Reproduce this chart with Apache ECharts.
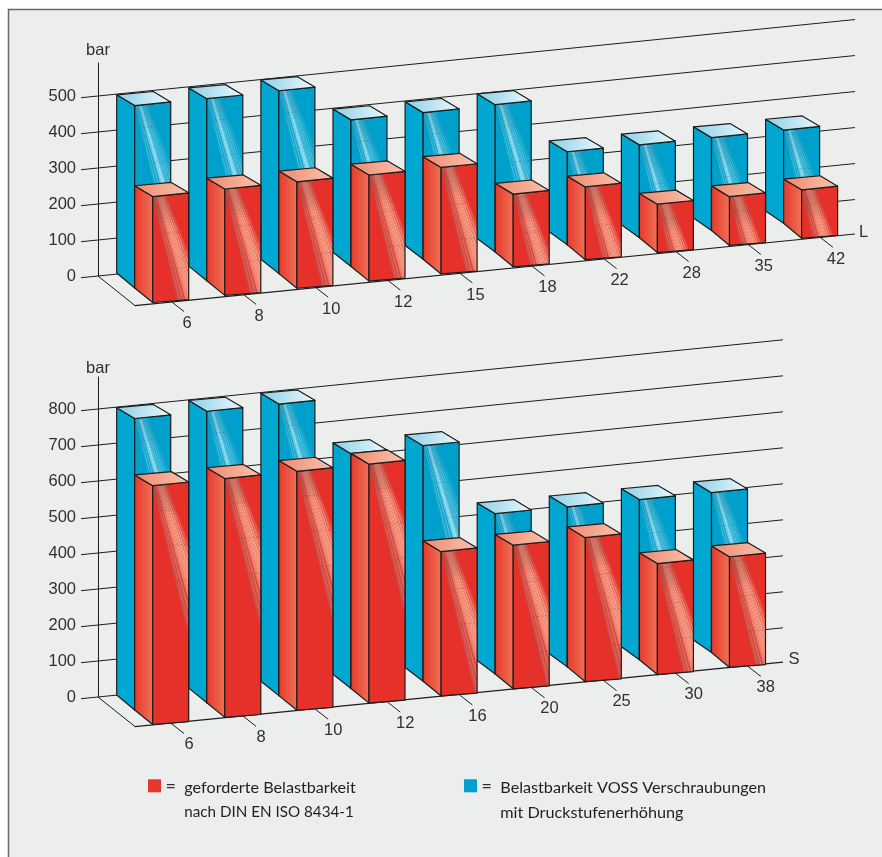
<!DOCTYPE html>
<html>
<head>
<meta charset="utf-8">
<style>html,body{margin:0;padding:0;background:#fff}#chart{width:882px;height:857px}</style>
<script src="https://cdn.jsdelivr.net/npm/echarts@6/dist/echarts.min.js"></script>
</head>
<body>
<div id="chart"></div>
<script>
// Pressure ratings per tube size, heavy (S) and light (L) series, in bar
const lSizes = ['6', '8', '10', '12', '15', '18', '22', '28', '35', '42'];
const lRequired = [284, 285, 285, 284, 285, 191, 191, 123, 124, 123];
const lVoss = [495, 495, 498, 398, 399, 402, 252, 252, 253, 255];
const lTicks = [0, 100, 200, 300, 400, 500];

const sSizes = ['6', '8', '10', '12', '16', '20', '25', '30', '38'];
const sRequired = [653, 653, 653, 653, 390, 388, 389, 297, 296];
const sVoss = [798, 799, 800, 643, 646, 438, 438, 439, 439];
const sTicks = [0, 100, 200, 300, 400, 500, 600, 700, 800];

const requiredLegend = ['geforderte Belastbarkeit', 'nach DIN EN ISO 8434-1'];
const vossLegend = ['Belastbarkeit VOSS Verschraubungen', 'mit Druckstufenerhöhung'];

// Oblique projection used to fake the 3D look of the bars
const PX_PER_BAR = 0.36;
const BAND = 72.1;
const DEPTH_X = 18;
const FACE_W = 36;
const TOP_DY = 10.8;
const TOP_SLOPE = 0.103;
const BOTTOM_SLOPE = 0.08;
const BAR_SHEAR = 0.0955;
const WALL_SHEAR = 0.101;
const FLOOR_SHEAR = 0.0995;
const AXIS_X = 98;
const LINE = '#1c1c1c';
const TEXT = '#303030';
const AXIS_FONT = '"Liberation Sans", Arial, sans-serif';
const LEGEND_FONT = '16.2px "Lato", sans-serif';
const LEGEND_FONT_DIGITS = '15.2px "Lato", sans-serif';

const panels = [
  { name: 'L', sizes: lSizes, required: lRequired, voss: lVoss, ticks: lTicks, zeroY: 276, topY: 63, lift: 3, endX: 855,
    labelOffset: [3, 12], nameGap: 4 },
  { name: 'S', sizes: sSizes, required: sRequired, voss: sVoss, ticks: sTicks, zeroY: 697, topY: 377, lift: 2, endX: 783,
    labelOffset: [5, 11], nameGap: 0 }
];

function hGradient(x1, x2, from, to) {
  return { type: 'linear', global: true, x: x1, y: 0, x2: x2, y2: 0,
    colorStops: [{ offset: 0, color: from }, { offset: 1, color: to }] };
}

// Strip colours of the fan-shaped sheen on the front faces, left to right
const BLUE_SHEEN = ['rgba(60,170,205,.4)', 'rgba(130,215,235,.5)', 'rgba(50,165,200,.35)', 'rgba(150,222,238,.55)', 'rgba(60,170,205,.35)',
  'rgba(165,226,240,.65)', 'rgba(190,235,245,.8)', 'rgba(195,236,245,.85)', 'rgba(175,228,240,.7)', 'rgba(130,212,232,.55)',
  'rgba(110,205,228,.5)', 'rgba(145,218,236,.6)', 'rgba(80,190,220,.45)', 'rgba(145,218,236,.55)', 'rgba(70,185,216,.35)',
  'rgba(130,212,232,.42)', 'rgba(50,175,210,.2)', 'rgba(110,205,228,.25)'];
const RED_SHEEN = ['rgba(130,140,150,.4)', 'rgba(232,125,105,.55)', 'rgba(135,140,145,.35)', 'rgba(238,140,118,.65)', 'rgba(150,140,140,.3)',
  'rgba(242,152,128,.75)', 'rgba(244,160,136,.85)', 'rgba(245,165,140,.9)', 'rgba(245,168,144,.95)', 'rgba(245,168,144,.95)',
  'rgba(245,165,140,.9)', 'rgba(248,188,168,.9)', 'rgba(240,145,120,.8)', 'rgba(248,188,168,.85)', 'rgba(238,125,100,.65)',
  'rgba(247,180,160,.7)', 'rgba(235,105,85,.45)', 'rgba(243,150,130,.45)'];

function sheenEdge(k, count, y, fTop) {
  const t = k / count;
  return (14 * t) + (0.24 + 0.14 * t) * (y - fTop);
}

function drawSheen(fx, fTop, fBottom, frontFace, style, wallY) {
  const n = style.sheen.length;
  const yA = fTop - 4;
  const yB = fTop + 230;
  const clip = { type: 'polygon', shape: { points: frontFace } };
  const out = style.sheen.map(function (color, k) {
    return {
      type: 'polygon',
      shape: { points: [
        [fx + sheenEdge(k, n, yA, fTop), yA], [fx + sheenEdge(k + 1, n, yA, fTop), yA],
        [fx + sheenEdge(k + 1, n, yB, fTop), yB], [fx + sheenEdge(k, n, yB, fTop), yB]] },
      style: { fill: color, stroke: 'none' },
      clipPath: clip, silent: true
    };
  });
  const envelope = [[fx + sheenEdge(0, n, yA, fTop), yA], [fx + sheenEdge(n, n, yA, fTop), yA],
    [fx + sheenEdge(n, n, yB, fTop), yB], [fx + sheenEdge(0, n, yB, fTop), yB]];
  // Darker start of the fan just below the top edge
  out.push({
    type: 'polygon', shape: { points: envelope }, silent: true,
    style: { stroke: 'none', fill: { type: 'linear', global: true, x: 0, y: fTop, x2: 0, y2: fTop + 30,
      colorStops: [{ offset: 0, color: style.shade }, { offset: 1, color: 'rgba(0,0,0,0)' }] } },
    clipPath: clip
  });
  // Back-wall lines showing faintly through the sheen
  wallY.forEach(function (wy) {
    const y1 = wy(fx);
    const y2 = wy(fx + FACE_W);
    if (y1 < fBottom - 2 && y2 > fTop) {
      out.push({ type: 'line', shape: { x1: fx, y1: y1, x2: fx + FACE_W, y2: y2 }, silent: true,
        style: { stroke: style.ghost, lineWidth: 0.8, lineDash: [2, 2], fill: 'none' },
        clipPath: { type: 'polygon', shape: { points: envelope } } });
    }
  });
  return out;
}

function drawBar(x, base, bottomDy, height, style, wallY) {
  const top = base - height;
  const fx = x + DEPTH_X;
  const fTop = top + TOP_DY;
  const fBottom = base + bottomDy;
  const edge = { stroke: LINE, lineWidth: 1.2, lineJoin: 'round' };
  const frontFace = [[fx, fTop], [fx + FACE_W, fTop - FACE_W * TOP_SLOPE],
    [fx + FACE_W, fBottom - FACE_W * BOTTOM_SLOPE], [fx, fBottom]];
  return [
    { type: 'polygon', shape: { points: [[x, base], [x, top], [fx, fTop], [fx, fBottom]] },
      style: Object.assign({ fill: style.left(x, fx) }, edge) },
    { type: 'polygon', shape: { points: frontFace }, style: { fill: style.front, stroke: 'none' } }
  ].concat(drawSheen(fx, fTop, fBottom, frontFace, style, wallY), [
    { type: 'polygon', shape: { points: frontFace }, style: Object.assign({ fill: 'none' }, edge) },
    { type: 'polygon', shape: { points: [[x, top], [fx, fTop], [fx + FACE_W, fTop - FACE_W * TOP_SLOPE], [x + FACE_W + 0.6, top - 3.3]] },
      style: Object.assign({ fill: hGradient(x, fx + FACE_W, style.topFrom, style.topTo) }, edge) }
  ]);
}

const vossStyle = {
  front: '#00a0cc', sheen: BLUE_SHEEN, topFrom: '#8ad0e8', topTo: '#ecf8fc',
  shade: 'rgba(0,90,140,.12)', ghost: 'rgba(0,70,100,.3)',
  left: function () { return '#00a8d1'; }
};
const requiredStyle = {
  front: '#e5312a', sheen: RED_SHEEN, topFrom: '#ee8a70', topTo: '#fac3ae',
  shade: 'rgba(130,60,55,.3)', ghost: 'rgba(80,40,40,.35)',
  left: function (a, b) { return hGradient(a, b, '#e63a2c', '#ef7056'); }
};

// Back corner of the blue bar at category i on the sheared floor
function blueCorner(api, panel, i, value) {
  const p = api.coord([i, value]);
  const zero = api.coord([i, 0]);
  const x = p[0] + 0.65 - DEPTH_X;
  const base = zero[1] - panel.lift - BAR_SHEAR * (x - (AXIS_X + 18.7));
  return { x: x, base: base, height: zero[1] - p[1], fx: x + DEPTH_X };
}

function wallLines(api, panel) {
  return panel.ticks.map(function (t) {
    const y = api.coord([0, t])[1];
    return function (x) { return y - WALL_SHEAR * (x - AXIS_X); };
  });
}

function buildPanel(panel, gridIndex) {
  const axisRefs = { xAxisIndex: gridIndex, yAxisIndex: gridIndex, silent: true, animation: false, type: 'custom', encode: { x: 0, y: 1 } };
  const blueDy = function (i) { return 15 - 0.3 * i; };

  const wall = Object.assign({}, axisRefs, {
    name: panel.name + ' wall',
    data: panel.ticks.map(function (t) { return [0, t]; }),
    renderItem: function (params, api) {
      const y = api.coord([0, api.value(1)])[1];
      const x1 = AXIS_X - 17;
      return { type: 'line',
        shape: { x1: x1, y1: y + WALL_SHEAR * 17, x2: panel.endX, y2: y - WALL_SHEAR * (panel.endX - AXIS_X) },
        style: { stroke: LINE, lineWidth: 1, fill: 'none' } };
    }
  });

  const floor = Object.assign({}, axisRefs, {
    name: panel.name + ' floor',
    data: [[0, 0]],
    renderItem: function (params, api) {
      const y = api.coord([0, 0])[1];
      const fx = AXIS_X + 37;
      const fy = y + 29.6;
      return { type: 'group', children: [
        { type: 'line', shape: { x1: AXIS_X, y1: y, x2: fx, y2: fy }, style: { stroke: LINE, lineWidth: 1, fill: 'none' } },
        { type: 'line', shape: { x1: fx, y1: fy, x2: panel.endX, y2: fy - FLOOR_SHEAR * (panel.endX - fx) }, style: { stroke: LINE, lineWidth: 1.1, fill: 'none' } }
      ] };
    }
  });

  const blue = Object.assign({}, axisRefs, {
    name: 'Belastbarkeit VOSS Verschraubungen ' + panel.name,
    data: panel.voss.map(function (v, i) { return [i, v]; }),
    renderItem: function (params, api) {
      const i = api.value(0);
      const c = blueCorner(api, panel, i, api.value(1));
      return { type: 'group', children: drawBar(c.x, c.base, blueDy(i), c.height, vossStyle, wallLines(api, panel)) };
    }
  });

  const red = Object.assign({}, axisRefs, {
    name: 'geforderte Belastbarkeit ' + panel.name,
    data: panel.required.map(function (v, i) { return [i, v]; }),
    renderItem: function (params, api) {
      const i = api.value(0);
      const c = blueCorner(api, panel, i, api.value(1));
      return { type: 'group', children: drawBar(c.fx, c.base + blueDy(i), 14.5 + 0.05 * i, c.height, requiredStyle, wallLines(api, panel)) };
    }
  });

  const sizeLabels = Object.assign({}, axisRefs, {
    name: panel.name + ' sizes',
    data: panel.sizes.map(function (s, i) { return [i, 0]; }),
    renderItem: function (params, api) {
      const i = api.value(0);
      const c = blueCorner(api, panel, i, 0);
      const x1 = c.fx + DEPTH_X + 18.5;
      const y1 = c.base + blueDy(i) + 14.5 + 0.05 * i - 1;
      const x2 = x1 + 12.8;
      const y2 = y1 + 10;
      return { type: 'group', children: [
        { type: 'line', shape: { x1: x1, y1: y1, x2: x2, y2: y2 }, style: { stroke: LINE, lineWidth: 1, fill: 'none' } },
        { type: 'text', style: { text: panel.sizes[i], x: x2 + panel.labelOffset[0], y: y2 + panel.labelOffset[1],
          align: 'center', verticalAlign: 'middle', font: '16.5px ' + AXIS_FONT, fill: TEXT } }
      ] };
    }
  });

  return [wall, floor, blue, red, sizeLabels];
}

const chart = echarts.init(document.getElementById('chart'), null, { renderer: 'canvas' });

function legendEntry(x, color, lines, secondFont) {
  const y = 779.3;
  return [
    { type: 'rect', shape: { x: x, y: y, width: 13, height: 13 }, style: { fill: color } },
    { type: 'text', style: { text: '=', x: x + 17.5, y: y + 7, verticalAlign: 'middle', font: '18px "Lato", sans-serif', fill: TEXT } },
    { type: 'text', style: { text: lines[0], x: x + 36.3, y: y + 8, verticalAlign: 'middle', font: LEGEND_FONT, fill: '#1f1f1f' } },
    { type: 'text', style: { text: lines[1], x: x + 36.3, y: y + 33, verticalAlign: 'middle', font: secondFont, fill: '#1f1f1f' } }
  ];
}

chart.setOption({
  animation: false,
  backgroundColor: '#ffffff',
  graphic: { elements: [
    { type: 'rect', z: -10, shape: { x: 8.5, y: 9.5, width: 900, height: 900 }, style: { fill: '#eceeee', stroke: '#6a6a6a', lineWidth: 1.5 }, silent: true },
    { type: 'text', z: 10, style: { text: 'L', x: 859, y: 232, verticalAlign: 'middle', font: '16.5px ' + AXIS_FONT, fill: TEXT } },
    { type: 'text', z: 10, style: { text: 'S', x: 788.5, y: 659.5, verticalAlign: 'middle', font: '16.5px ' + AXIS_FONT, fill: TEXT } }
  ].concat(legendEntry(148, '#e8352d', requiredLegend, LEGEND_FONT_DIGITS), legendEntry(464, '#009fd0', vossLegend, LEGEND_FONT)) },
  grid: panels.map(function (p) {
    return { left: AXIS_X, top: p.topY, width: p.sizes.length * BAND, height: p.zeroY - p.topY, containLabel: false };
  }),
  xAxis: panels.map(function (p, i) {
    return { type: 'category', gridIndex: i, data: p.sizes, show: false };
  }),
  yAxis: panels.map(function (p, i) {
    return {
      type: 'value', gridIndex: i, min: 0, max: (p.zeroY - p.topY) / PX_PER_BAR, interval: 100,
      name: 'bar', nameLocation: 'end', nameGap: p.nameGap,
      nameTextStyle: { fontFamily: AXIS_FONT, fontSize: 16.5, color: TEXT, align: 'center', verticalAlign: 'bottom' },
      axisLine: { show: true, onZero: false, lineStyle: { color: LINE, width: 1 } },
      axisTick: { show: false },
      splitLine: { show: false },
      axisLabel: { margin: 22, showMaxLabel: false, fontFamily: AXIS_FONT, fontSize: 16.5, color: TEXT, padding: [5, 0, 0, 0] }
    };
  }),
  series: panels.reduce(function (all, p, i) { return all.concat(buildPanel(p, i)); }, [])
});
</script>
</body>
</html>
